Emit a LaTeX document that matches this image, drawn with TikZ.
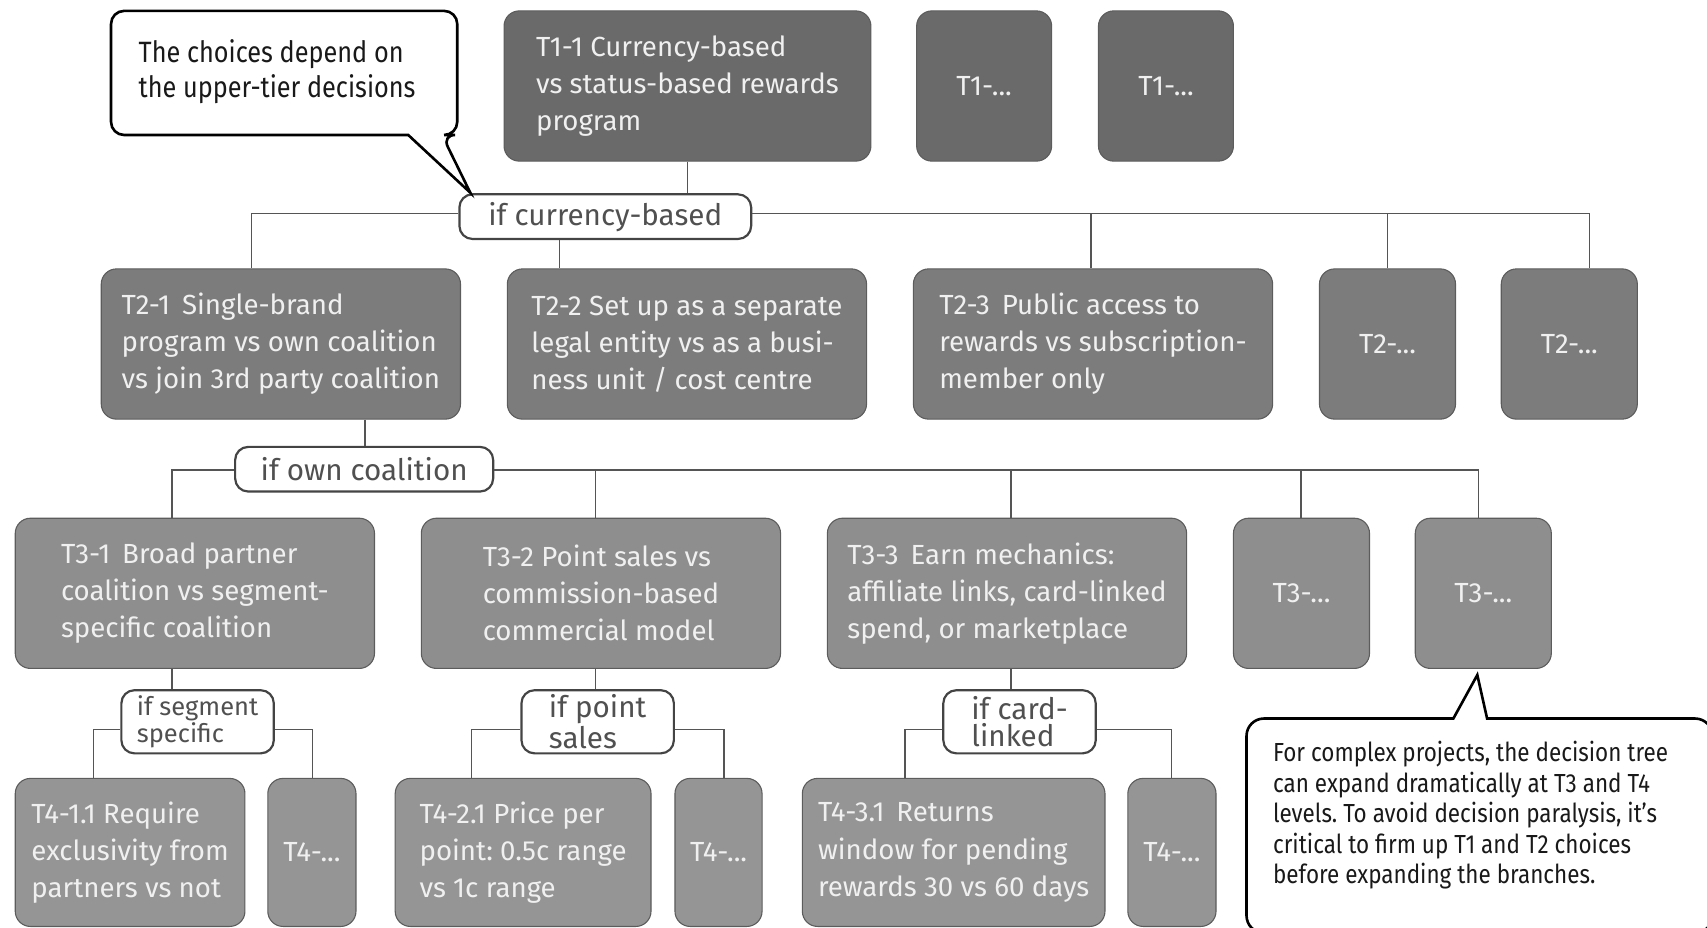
\documentclass[tikz,border=0pt]{standalone}
\usepackage{fontspec}
\setmainfont{Fira Sans}
\newfontfamily\notefont[FakeStretch=0.86]{Fira Sans}
\frenchspacing

\definecolor{tierA}{HTML}{6A6A6A}
\definecolor{tierB}{HTML}{7C7C7C}
\definecolor{tierC}{HTML}{8E8E8E}
\definecolor{tierD}{HTML}{959595}
\definecolor{edgeC}{HTML}{5C5C5C}
\definecolor{lineC}{HTML}{555555}
\definecolor{boxtext}{HTML}{F0F0F0}
\definecolor{labeltext}{HTML}{505050}
\definecolor{labeledge}{HTML}{444444}

\begin{document}
\begin{tikzpicture}[x=0.5pt,y=-0.5pt,
  tbox/.style={draw=edgeC, line width=0.5pt, rounded corners=7pt, text=boxtext,
    font=\fontsize{12.7}{17}\selectfont, align=left, minimum height=69pt,
    inner sep=0pt, minimum width=#1},
  tier1/.style={tbox=#1, fill=tierA},
  tier2/.style={tbox=#1, fill=tierB},
  tier3/.style={tbox=#1, fill=tierC},
  tier4/.style={tbox=#1, fill=tierD, minimum height=68pt},
  cond/.style={draw=labeledge, line width=1pt, fill=white, rounded corners=6pt,
    text=labeltext, inner sep=0pt, align=left},
  condwide/.style={cond, font=\fontsize{13.6}{14}\selectfont, minimum height=20.5pt},
  condtall/.style={cond, font=\fontsize{13.6}{12.5}\selectfont, minimum width=70pt, minimum height=29pt},
  conn/.style={draw=lineC, line width=0.8pt},
  bubble/.style={draw=black, line width=1.2pt, fill=white, line join=miter},
  notetext/.style={text=black!90, align=left, inner sep=0pt, anchor=west}
]
\useasboundingbox (0,0) rectangle (1568,852);

% ---------- tier 1 ----------
\node[tier1=168.5pt] (t11) at (631.5,79)
  {T1-1 Currency-based\\vs status-based rewards\\program};
\node[tier1=62pt] (t1a) at (904,79) {T1-...};
\node[tier1=62pt] (t1b) at (1071,79) {T1-...};

% ---------- tier 2 ----------
\node[tier2=165pt] (t21) at (258,316)
  {T2-1\, Single-brand\\program vs own coalition\\vs join 3rd party coalition};
\node[tier2=165pt] (t22) at (631,316)
  {T2-2 Set up as a separate\\legal entity vs as a busi-\\ness unit / cost centre};
\node[tier2=165pt] (t23) at (1004,316)
  {T2-3\, Public access to\\rewards vs subscription-\\member only};
\node[tier2=62.5pt] (t2a) at (1274.5,316) {T2-...};
\node[tier2=62.5pt] (t2b) at (1441.5,316) {T2-...};

% ---------- tier 3 ----------
\node[tier3=165pt] (t31) at (179,545)
  {T3-1\, Broad partner\\coalition vs segment-\\specific coalition};
\node[tier3=165pt] (t32) at (552,545)
  {T3-2 Point sales vs\\commission-based\\commercial model};
\node[tier3=165pt] (t33) at (925,545)
  {T3-3\, Earn mechanics:\\affiliate links, card-linked\\spend, or marketplace};
\node[tier3=62.5pt] (t3a) at (1195.5,545) {T3-...};
\node[tier3=62.5pt] (t3b) at (1362.5,545) {T3-...};

% ---------- tier 4 ----------
\node[tier4=105.5pt] (t41) at (119.5,783)
  {T4-1.1 Require\\exclusivity from\\partners vs not};
\node[tier4=40.5pt] (t4a) at (286.5,783) {T4-...};
\node[tier4=117.5pt] (t42) at (480.5,783)
  {T4-2.1 Price per\\point: 0.5c range\\vs 1c range};
\node[tier4=40pt] (t4b) at (660,783) {T4-...};
\node[tier4=139pt] (t43) at (876,783)
  {T4-3.1\, Returns\\window for pending\\rewards 30 vs 60 days};
\node[tier4=40.5pt] (t4c) at (1076.5,783) {T4-...};

% ---------- condition labels ----------
\node[condwide, minimum width=134pt] (lc) at (556,199) {if currency-based};
\node[condwide, minimum width=118.5pt] (lo) at (334.5,431) {if own coalition};
\node[condtall, font=\fontsize{11.7}{12.5}\selectfont] (ls) at (181.5,663) {if segment\\specific};
\node[condtall] (lp) at (549,663) {if point\\sales};
\node[condtall] (lk) at (936.5,663) {if card-\\linked};

% ---------- bus rows and drop positions ----------
\coordinate (bus1) at (0,196);
\coordinate (bus2) at (0,432);
\coordinate (bus3) at (0,670);
\foreach \x in {86,158,231,287,335,433,514,547,665,831,929,1002,1076,1195,1358,1460}
  \coordinate (v\x) at (\x,0);

% tier 1 -> tier 2
\draw[conn] (t11.south) -- (t11.south |- lc.north);
\draw[conn] (v231 |- t21.north) |- (lc.west |- bus1);
\draw[conn] (lc.east |- bus1) -| (v1460 |- t2b.north);
\draw[conn] (v514 |- lc.south) -- (v514 |- t22.north);
\draw[conn] (v1002 |- t23.north) -- (v1002 |- bus1);
\draw[conn] (t2a.north) -- (t2a.north |- bus1);

% tier 2 -> tier 3
\draw[conn] (v335 |- t21.south) -- (v335 |- lo.north);
\draw[conn] (v158 |- t31.north) |- (lo.west |- bus2);
\draw[conn] (lo.east |- bus2) -| (v1358 |- t3b.north);
\draw[conn] (v547 |- t32.north) -- (v547 |- bus2);
\draw[conn] (v929 |- t33.north) -- (v929 |- bus2);
\draw[conn] (v1195 |- t3a.north) -- (v1195 |- bus2);

% tier 3 -> tier 4
\draw[conn] (v158 |- t31.south) -- (v158 |- ls.north);
\draw[conn] (v86 |- t41.north) |- (ls.west |- bus3);
\draw[conn] (ls.east |- bus3) -| (v287 |- t4a.north);
\draw[conn] (v547 |- t32.south) -- (v547 |- lp.north);
\draw[conn] (v433 |- t42.north) |- (lp.west |- bus3);
\draw[conn] (lp.east |- bus3) -| (v665 |- t4b.north);
\draw[conn] (v929 |- t33.south) -- (v929 |- lk.north);
\draw[conn] (v831 |- t43.north) |- (lk.west |- bus3);
\draw[conn] (lk.east |- bus3) -| (v1076 |- t4c.north);

% ---------- speech bubbles ----------
\draw[bubble] (375,124) [rounded corners=6pt] -- (102,124) -- (102,10) -- (420,10)
  -- (420,124) -- (406,124) [sharp corners] -- (432,177) -- cycle;
\node[notetext, font=\notefont\fontsize{13.5}{16}\selectfont] (note1) at (127,66)
  {The choices depend on\\the upper-tier decisions};

% this bubble runs off the right and bottom edges of the page
\draw[bubble] (1366,660) [rounded corners=8pt] -- (1573,660) -- (1573,857)
  -- (1145,857) -- (1145,660) -- (1315,660) [sharp corners] -- (1335,660)
  -- (1357,620) -- cycle;
\node[notetext, font=\notefont\fontsize{12}{14}\selectfont] (note2) at (1169,749)
  {For complex projects, the decision tree\\can expand dramatically at T3 and T4\\levels. To avoid decision paralysis, it’s\\critical to firm up T1 and T2 choices\\before expanding the branches.};
\end{tikzpicture}
\end{document}
